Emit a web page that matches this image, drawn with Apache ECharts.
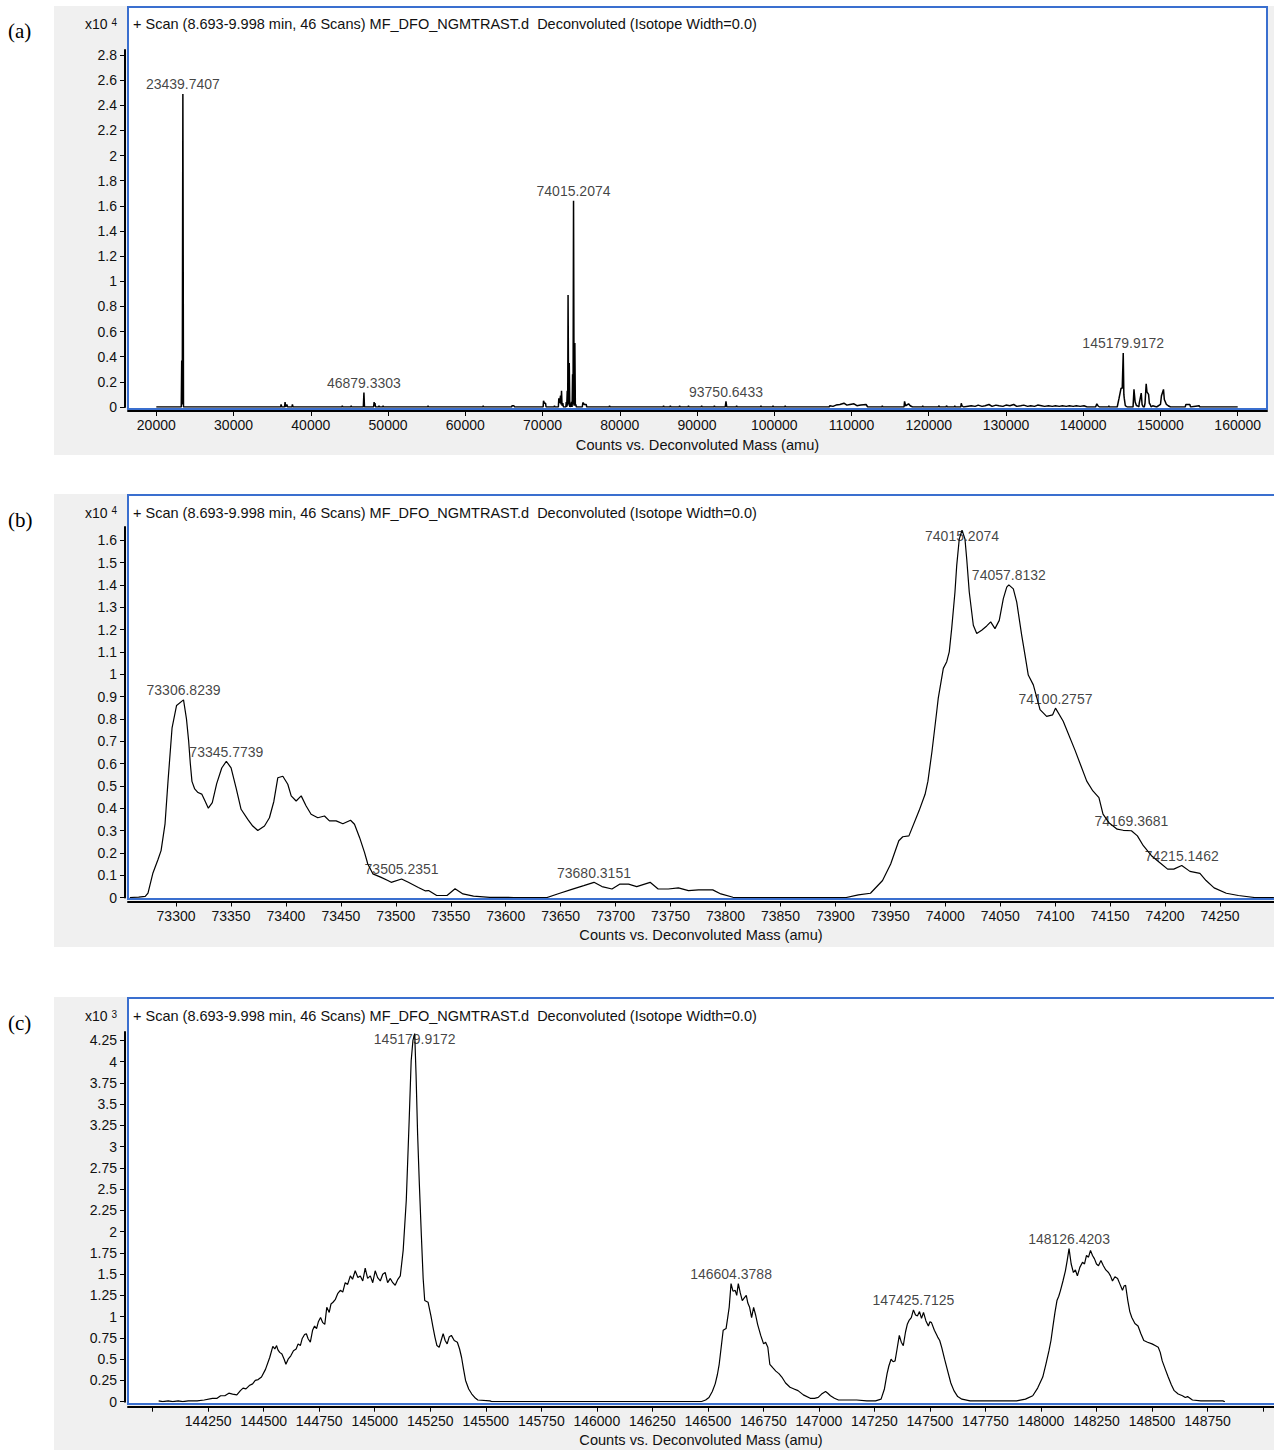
<!DOCTYPE html>
<html>
<head>
<meta charset="utf-8">
<script src="https://cdn.jsdelivr.net/npm/echarts@6/dist/echarts.min.js"></script>
<style>
html,body{margin:0;padding:0;background:#fff;}
#chart{width:1274px;height:1450px;}
</style>
</head>
<body>
<div id="chart"></div>
<script>
// ---------- deconvoluted spectra: [mass (amu), counts in the panel's axis unit] ----------

// (a) full range, counts x10^4
const spectrumA = [
  [20000,0],[23230,0],[23290,0.37],[23360,0.02],[23439.7407,2.49],[23520,0],
  [36100,0],[36150,0.02],[36250,0],[36600,0],[36670,0.04],[36740,0],[36900,0.02],[37000,0],[37560,0],[37620,0.02],[37700,0],
  [44030,0],[44080,0.01],[44130,0],[45180,0],[45230,0.01],[45280,0],
  [46800,0],[46879.3303,0.115],[46950,0],
  [48130,0],[48200,0.04],[48260,0.01],[48310,0.03],[48380,0],[48780,0],[48830,0.01],[48880,0],[49310,0],[49360,0.01],[49410,0],
  [55130,0],[55180,0.01],[55230,0],[62270,0],[62320,0.01],[62370,0],[66000,0],[66050,0.01],[66300,0.01],[66380,0],
  [70080,0],[70130,0.05],[70250,0.03],[70390,0.03],[70460,0],[71500,0],[71550,0.01],[71600,0],
  [72050,0],[72110,0.07],[72200,0.03],[72330,0.09],[72400,0.02],[72460,0.13],[72530,0.01],[72630,0.03],[72700,0],
  [73020,0],[73070,0.04],[73130,0],[73200,0.13],[73260,0.01],[73306.8239,0.89],[73380,0.02],[73460,0.35],[73530,0],
  [73590,0.02],[73650,0],[73760,0.04],[73830,0],[73890,0.26],[73950,0.02],[74015.2074,1.64],[74090,0.01],[74185,0.51],
  [74250,0.01],[74310,0.02],[74380,0],
  [75150,0],[75220,0.035],[75300,0.03],[75400,0.02],[75660,0.02],[75720,0],[78630,0],[78680,0.01],[78730,0],
  [85620,0],[85670,0.01],[85720,0],[86500,0],[86550,0.01],[86600,0],[87700,0],[87750,0.01],[87800,0],
  [88850,0],[88900,0.01],[88950,0],[90550,0],[90600,0.01],[90650,0],[92200,0],[92250,0.01],[92300,0],
  [93650,0],[93750.6433,0.045],[93850,0],[95080,0],[95130,0.01],[95180,0],[98230,0],[98280,0.01],[98330,0],
  [99790,0],[99840,0.01],[99890,0],[101370,0],[101420,0.01],[101470,0],
  [107100,0],[107200,0.01],[107600,0.005],[108000,0.015],[108500,0.02],[109020,0.03],[109400,0.015],[109800,0.02],
  [110320,0.025],[110700,0.01],[111200,0.015],[111890,0.02],[112100,0],[113940,0],[113990,0.01],[114040,0],
  [116800,0],[116870,0.045],[117000,0.01],[117390,0.025],[117600,0.01],[117900,0],[119170,0],[119220,0.01],[119270,0],
  [121250,0],[121300,0.01],[121400,0],[122250,0],[122300,0.01],[122400,0],[123320,0],[123370,0.01],[123420,0],
  [124150,0],[124210,0.03],[124300,0.01],[124500,0],
  [125500,0.01],[126000,0.005],[126400,0.015],[126900,0.005],[127300,0.01],[127800,0.02],[128200,0.005],[128700,0.015],
  [129100,0.01],[129600,0.005],[130000,0.015],[130500,0.01],[131000,0.02],[131400,0.005],[131900,0.01],[132300,0.015],
  [132800,0.005],[133200,0.01],[133700,0.005],[134100,0.015],[134600,0.01],[135000,0.005],[135500,0.01],[136000,0.005],
  [136400,0.01],[136900,0.005],[137300,0.01],[137800,0.005],[138200,0.01],[138700,0.005],[139100,0.01],[139600,0.005],
  [140100,0.01],[140500,0],[141600,0],[141760,0.025],[141900,0.01],[142100,0],[143270,0],[143320,0.01],[143370,0],
  [144400,0],[144640,0.07],[144900,0.15],[145050,0.15],[145179.9172,0.43],[145260,0.1],[145310,0.07],[145450,0.01],[145690,0],
  [146450,0],[146570,0.14],[146720,0.04],[146900,0.01],[147000,0.01],[147200,0],[147250,0.03],[147320,0.05],[147510,0.11],
  [147620,0.02],[147770,0],[147900,0],[148000,0.03],[148150,0.185],[148250,0.12],[148460,0.10],[148560,0.03],[148670,0.02],
  [148800,0],[149000,0.01],[149500,0],[150000,0.02],[150130,0.09],[150390,0.14],[150500,0.06],[150770,0.02],[151000,0.01],
  [151300,0],[153200,0],[153290,0.02],[153800,0.02],[153900,0],[155000,0.01],[155100,0],[160000,0]
];

// (b) 73.3–74.3 kDa region, counts x10^4
const spectrumB = [
  [73258,0],[73266,0.002],[73272,0.005],[73274.5,0.02],[73279,0.11],[73283.6,0.17],[73286.4,0.21],[73290,0.33],
  [73292.7,0.52],[73296.4,0.76],[73300.5,0.86],[73306.8239,0.885],[73309.5,0.80],[73311.5,0.70],[73313,0.60],
  [73314.5,0.52],[73317,0.486],[73320,0.47],[73323.4,0.463],[73326.4,0.432],[73329.4,0.40],[73333,0.425],[73337,0.51],
  [73341.6,0.58],[73345.7739,0.61],[73350.1,0.58],[73354.7,0.49],[73359.2,0.395],[73365.3,0.35],[73369.8,0.32],
  [73374.4,0.30],[73380.5,0.32],[73385,0.357],[73389,0.43],[73392.6,0.536],[73397.2,0.543],[73401.7,0.507],
  [73404.8,0.455],[73409.3,0.432],[73413.9,0.455],[73418.4,0.41],[73422.9,0.373],[73429,0.357],[73435.1,0.365],
  [73439.6,0.343],[73445.7,0.343],[73451.8,0.33],[73458.8,0.346],[73462.4,0.328],[73467,0.269],[73471.5,0.202],
  [73474.5,0.15],[73479.1,0.106],[73486.7,0.09],[73492.7,0.076],[73495.8,0.068],[73505.2351,0.083],[73511.4,0.068],
  [73520.5,0.045],[73526.6,0.03],[73529.8,0.031],[73537.2,0.009],[73546.6,0.009],[73553.9,0.039],[73561.1,0.016],
  [73570.7,0.006],[73585.5,0.001],[73607.5,0],[73637.6,0],[73648.5,0.018],[73659.4,0.035],[73671,0.053],
  [73680.3151,0.068],[73687.6,0.049],[73696.7,0.038],[73704,0.06],[73711.8,0.06],[73719.2,0.049],[73731.4,0.068],
  [73738.7,0.038],[73747.9,0.038],[73757.1,0.043],[73766.3,0.031],[73775.5,0.034],[73788.4,0.034],[73795.8,0.016],
  [73806.8,0.001],[73819.7,0],[73909.8,0],[73920.9,0.012],[73931.9,0.019],[73942.9,0.076],[73950.3,0.15],
  [73957.7,0.254],[73961.3,0.272],[73966.9,0.276],[73976.1,0.388],[73981.6,0.462],[73984.2,0.521],[73987.9,0.655],
  [73992.2,0.833],[73993.6,0.893],[73998.2,1.026],[74001.3,1.056],[74003.6,1.10],[74005.8,1.204],[74008.8,1.368],
  [74010.4,1.487],[74012.7,1.605],[74015.2074,1.645],[74017.9,1.605],[74019.5,1.516],[74021.8,1.368],[74025.5,1.219],
  [74028.6,1.182],[74033.1,1.197],[74037.7,1.216],[74041.3,1.234],[74045.2,1.204],[74049.1,1.241],[74052.8,1.338],
  [74055.9,1.39],[74057.8132,1.40],[74061.9,1.382],[74065,1.323],[74069.5,1.175],[74072.5,1.086],[74075.5,0.996],
  [74080.1,0.952],[74086.2,0.841],[74092.2,0.811],[74097.7,0.818],[74100.2757,0.848],[74107.3,0.789],[74118,0.66],
  [74128.7,0.521],[74134.3,0.477],[74139.8,0.447],[74143.5,0.373],[74148.9,0.335],[74156.4,0.306],[74161.9,0.301],
  [74169.3681,0.299],[74174.8,0.276],[74180.2,0.232],[74187.6,0.187],[74195,0.157],[74202.3,0.127],[74207.9,0.127],
  [74215.1462,0.143],[74222.6,0.117],[74231.7,0.108],[74237.3,0.076],[74244.6,0.043],[74255.7,0.019],[74266.7,0.009],
  [74281.4,0],[74299,0]
];

// (c) 144–149 kDa region, counts x10^3
const spectrumC = [
  [144027,0.01],[144045,0],[144070,0.01],[144090,0],[144115,0.01],[144135,0],[144160,0.01],[144177,0.01],[144200,0.01],
  [144232,0.02],[144269,0.04],[144290,0.04],[144306,0.07],[144325,0.07],[144343,0.10],[144360,0.09],[144379,0.08],
  [144395,0.13],[144407,0.16],[144420,0.15],[144435,0.19],[144450,0.21],[144462,0.25],[144475,0.26],[144490,0.29],
  [144508,0.38],[144527,0.52],[144541,0.65],[144550,0.62],[144558,0.66],[144564,0.61],[144572,0.58],[144582,0.56],
  [144592,0.50],[144600,0.44],[144610,0.50],[144622,0.54],[144634,0.60],[144646,0.62],[144655,0.68],[144665,0.66],
  [144673,0.74],[144684,0.79],[144692,0.80],[144700,0.74],[144710,0.70],[144720,0.84],[144729,0.89],[144738,0.86],
  [144746,0.94],[144756,0.99],[144766,0.93],[144775,0.91],[144784,1.11],[144795,1.05],[144803,1.15],[144812,1.17],
  [144822,1.20],[144833,1.27],[144845,1.31],[144856,1.29],[144867,1.40],[144878,1.38],[144890,1.48],[144900,1.44],
  [144912,1.54],[144924,1.46],[144935,1.48],[144946,1.42],[144957,1.57],[144968,1.45],[144980,1.48],[144991,1.40],
  [145002,1.54],[145013,1.46],[145025,1.42],[145036,1.50],[145047,1.52],[145058,1.40],[145070,1.45],[145081,1.40],
  [145092,1.37],[145104,1.44],[145115,1.48],[145128,1.78],[145142,2.37],[145155,3.31],[145164,4.01],[145172,4.25],
  [145179.9172,4.33],[145186,3.85],[145193,3.15],[145201,2.55],[145210,1.95],[145218,1.45],[145225,1.19],[145240,1.17],
  [145253,1.01],[145262,0.88],[145271,0.76],[145280,0.66],[145290,0.64],[145299,0.72],[145308,0.80],[145317,0.72],
  [145326,0.68],[145335,0.76],[145345,0.78],[145358,0.72],[145372,0.70],[145382,0.62],[145391,0.52],[145400,0.38],
  [145409,0.25],[145423,0.15],[145437,0.09],[145450,0.05],[145464,0.02],[145519,0.01],[145528,0],[146469,0],
  [146490,0.02],[146505,0.05],[146520,0.12],[146533,0.21],[146543,0.32],[146551,0.44],[146560,0.64],[146569,0.84],
  [146582,0.86],[146590,1.0],[146596,1.11],[146604.3788,1.39],[146613,1.30],[146623,1.31],[146630,1.25],[146637,1.39],
  [146646,1.28],[146655,1.19],[146664,1.22],[146673,1.25],[146680,1.16],[146688,1.11],[146697,0.99],[146706,1.11],
  [146715,1.02],[146724,0.91],[146738,0.78],[146751,0.68],[146760,0.70],[146770,0.64],[146779,0.44],[146792,0.40],
  [146806,0.36],[146820,0.33],[146833,0.29],[146850,0.22],[146870,0.17],[146888,0.15],[146906,0.13],[146930,0.08],
  [146961,0.04],[146980,0.04],[146997,0.05],[147012,0.09],[147030,0.12],[147040,0.10],[147052,0.07],[147070,0.04],
  [147088,0.02],[147125,0.02],[147170,0.02],[147216,0.01],[147255,0.01],[147280,0.03],[147295,0.15],[147307,0.33],
  [147315,0.42],[147325,0.50],[147334,0.47],[147343,0.48],[147352,0.62],[147362,0.78],[147371,0.70],[147380,0.66],
  [147390,0.82],[147398,0.91],[147407,0.96],[147416,0.99],[147425.7125,1.08],[147435,1.02],[147444,1.01],[147453,1.06],
  [147462,0.98],[147471,1.05],[147482,0.95],[147493,0.89],[147500,0.94],[147507,0.93],[147520,0.84],[147535,0.76],
  [147544,0.72],[147553,0.64],[147566,0.50],[147580,0.36],[147594,0.22],[147608,0.13],[147625,0.06],[147644,0.03],
  [147681,0.01],[147890,0.01],[147930,0.03],[147963,0.07],[147985,0.16],[148008,0.29],[148022,0.44],[148036,0.60],
  [148045,0.72],[148054,0.89],[148063,1.05],[148072,1.19],[148080,1.24],[148088,1.31],[148099,1.42],[148110,1.54],
  [148118,1.66],[148126.4203,1.80],[148136,1.62],[148146,1.52],[148155,1.55],[148164,1.48],[148175,1.58],[148187,1.64],
  [148196,1.62],[148205,1.72],[148214,1.70],[148223,1.78],[148232,1.72],[148241,1.68],[148250,1.62],[148259,1.60],
  [148270,1.66],[148281,1.60],[148292,1.55],[148304,1.52],[148313,1.48],[148322,1.42],[148333,1.47],[148345,1.45],
  [148356,1.38],[148367,1.31],[148374,1.36],[148381,1.37],[148391,1.19],[148400,1.06],[148409,0.99],[148423,0.92],
  [148437,0.89],[148450,0.80],[148463,0.72],[148480,0.70],[148500,0.68],[148514,0.66],[148528,0.64],[148537,0.58],
  [148546,0.48],[148560,0.38],[148573,0.29],[148587,0.20],[148600,0.13],[148618,0.09],[148637,0.07],[148650,0.05],
  [148660,0.06],[148682,0.02],[148720,0.01],[148819,0.01],[148828,0]
];

// annotated peak masses
const peaksA = [23439.7407, 46879.3303, 74015.2074, 93750.6433, 145179.9172];
const peaksB = [73306.8239, 73345.7739, 73505.2351, 73680.3151, 74015.2074, 74057.8132, 74100.2757, 74169.3681, 74215.1462];
const peaksC = [145179.9172, 146604.3788, 147425.7125, 148126.4203];

// axis ticks and labels
const massTicksA = [20000,30000,40000,50000,60000,70000,80000,90000,100000,110000,120000,130000,140000,150000,160000];
const countTicksA = [0,0.2,0.4,0.6,0.8,1,1.2,1.4,1.6,1.8,2,2.2,2.4,2.6,2.8];
const massTicksB = [73300,73350,73400,73450,73500,73550,73600,73650,73700,73750,73800,73850,73900,73950,74000,74050,74100,74150,74200,74250];
const countTicksB = [0,0.1,0.2,0.3,0.4,0.5,0.6,0.7,0.8,0.9,1,1.1,1.2,1.3,1.4,1.5,1.6];
const massTicksC = [144000,144250,144500,144750,145000,145250,145500,145750,146000,146250,146500,146750,147000,147250,147500,147750,148000,148250,148500,148750,149000];
const massLabelsC = [144250,144500,144750,145000,145250,145500,145750,146000,146250,146500,146750,147000,147250,147500,147750,148000,148250,148500,148750];
const countTicksC = [0,0.25,0.5,0.75,1,1.25,1.5,1.75,2,2.25,2.5,2.75,3,3.25,3.5,3.75,4,4.25];

// texts
const panelTags = ['(a)', '(b)', '(c)'];
const scanTitle = '+ Scan (8.693-9.998 min, 46 Scans) MF_DFO_NGMTRAST.d \u00a0Deconvoluted (Isotope Width=0.0)';
const massAxisName = 'Counts vs. Deconvoluted Mass (amu)';
const countExponents = ['4', '4', '3'];

// ---------- layout & styles ----------
const FONT = '"Liberation Sans", Arial, sans-serif';
const SERIF = '"Liberation Serif", "Times New Roman", serif';
const INK = '#111';
const FRAME_BLUE = '#3a6fcf';
const PANEL_GRAY = '#f0f0f0';

const layout = [
  { bg: [54, 6, 1220, 449], box: [128, 7, 1139, 402], grid: { left: 128, top: 50, width: 1139, height: 357 },
    xMin: 16336, xMax: 163791, yMax: 2.84, xOffset: 4, titleY: 24, tagY: 31, lineWidth: 1.5 },
  { bg: [54, 494, 1220, 453], box: [128, 495, 1150, 404], grid: { left: 128, top: 527, width: 1146, height: 370.5 },
    xMin: 73256.3, xMax: 74299.1, yMax: 1.659, xOffset: 4, titleY: 512.5, tagY: 520, lineWidth: 1.2 },
  { bg: [54, 997, 1220, 453], box: [128, 998, 1150, 406], grid: { left: 128, top: 1032, width: 1146, height: 369.7 },
    xMin: 143888.9, xMax: 149049.3, yMax: 4.349, xOffset: 5, titleY: 1016, tagY: 1023, lineWidth: 1.2 }
];

const spectra = [spectrumA, spectrumB, spectrumC];
const peakSets = [peaksA, peaksB, peaksC];
const xTickSets = [massTicksA, massTicksB, massTicksC];
const xLabelSets = [massTicksA, massTicksB, massLabelsC];
const yTickSets = [countTicksA, countTicksB, countTicksC];

// counts at a given mass (exact point or linear between neighbours)
function countsAt(spec, m) {
  for (let i = 0; i < spec.length; i++) {
    if (spec[i][0] === m) return spec[i][1];
    if (i > 0 && spec[i - 1][0] < m && spec[i][0] > m) {
      const [x0, y0] = spec[i - 1], [x1, y1] = spec[i];
      return y0 + (y1 - y0) * (m - x0) / (x1 - x0);
    }
  }
  return 0;
}

const fmtCount = v => String(Math.round(v * 100) / 100);

const grids = [], xAxes = [], yAxes = [], series = [], graphics = [];

layout.forEach((L, i) => {
  grids.push(Object.assign({ outerBoundsMode: 'none', containLabel: false }, L.grid));

  xAxes.push({
    type: 'value', gridIndex: i, min: L.xMin, max: L.xMax, offset: L.xOffset,
    axisLine: { show: true, onZero: false, lineStyle: { color: '#000', width: 2 } },
    axisTick: { show: true, length: 5, lineStyle: { color: '#000', width: 1 }, customValues: xTickSets[i] },
    axisLabel: { customValues: xLabelSets[i], margin: 7, fontFamily: FONT, fontSize: 14, color: INK, formatter: v => String(v) },
    splitLine: { show: false },
    name: massAxisName, nameLocation: 'middle', nameGap: 26,
    nameTextStyle: { fontFamily: FONT, fontSize: 14.6, color: INK }
  });

  yAxes.push({
    type: 'value', gridIndex: i, min: 0, max: L.yMax, offset: 3,
    axisLine: { show: true, onZero: false, lineStyle: { color: '#000', width: 2 } },
    axisTick: { show: true, length: 5, lineStyle: { color: '#000', width: 1 }, customValues: yTickSets[i] },
    axisLabel: { customValues: yTickSets[i], margin: 8, fontFamily: FONT, fontSize: 14, color: INK, formatter: fmtCount },
    splitLine: { show: false }
  });

  series.push({
    type: 'line', xAxisIndex: i, yAxisIndex: i, data: spectra[i],
    showSymbol: false, symbol: 'none', silent: true, z: 3,
    lineStyle: { color: '#000', width: L.lineWidth }
  });

  // peak annotations kept clear of the scan header line
  const labelCeiling = L.box[1] + 41;
  series.push({
    type: 'scatter', xAxisIndex: i, yAxisIndex: i,
    data: peakSets[i].map(m => [m, countsAt(spectra[i], m)]),
    symbol: 'circle', symbolSize: 1, itemStyle: { color: 'rgba(0,0,0,0)' }, silent: true, z: 4,
    label: { show: true, position: 'top', distance: 2, fontFamily: FONT, fontSize: 14, color: INK,
             formatter: p => p.value[0].toFixed(4) },
    labelLayout: p => {
      const r = p.labelRect;
      const d = (labelCeiling - r.height / 2) - r.y;
      return d > 0 ? { dy: d } : {};
    }
  });

  graphics.push(
    { type: 'rect', z: -20, silent: true, shape: { x: L.bg[0], y: L.bg[1], width: L.bg[2], height: L.bg[3] },
      style: { fill: PANEL_GRAY } },
    { type: 'rect', z: -10, silent: true, shape: { x: L.box[0], y: L.box[1], width: L.box[2], height: L.box[3] },
      style: { fill: '#fff', stroke: FRAME_BLUE, lineWidth: 2 } },
    { type: 'text', z: 10, silent: true, x: 133, y: L.titleY,
      style: { text: scanTitle, fill: INK, font: '14.5px ' + FONT, align: 'left', verticalAlign: 'middle' } },
    { type: 'text', z: 10, silent: true, x: 117, y: L.titleY,
      style: { text: '{m|x10 }{s|' + countExponents[i] + '}', align: 'right', verticalAlign: 'middle',
        rich: { m: { fontFamily: FONT, fontSize: 14, fill: INK, color: INK },
                s: { fontFamily: FONT, fontSize: 10, fill: INK, color: INK, verticalAlign: 'top' } } } },
    { type: 'text', z: 10, silent: true, x: 8, y: L.tagY,
      style: { text: panelTags[i], fill: '#000', font: '21px ' + SERIF, align: 'left', verticalAlign: 'middle' } }
  );
});

const chart = echarts.init(document.getElementById('chart'), null, { renderer: 'svg', width: 1274, height: 1450 });
chart.setOption({
  animation: false,
  backgroundColor: '#fff',
  grid: grids,
  xAxis: xAxes,
  yAxis: yAxes,
  series: series,
  graphic: { elements: graphics }
});
</script>
</body>
</html>
